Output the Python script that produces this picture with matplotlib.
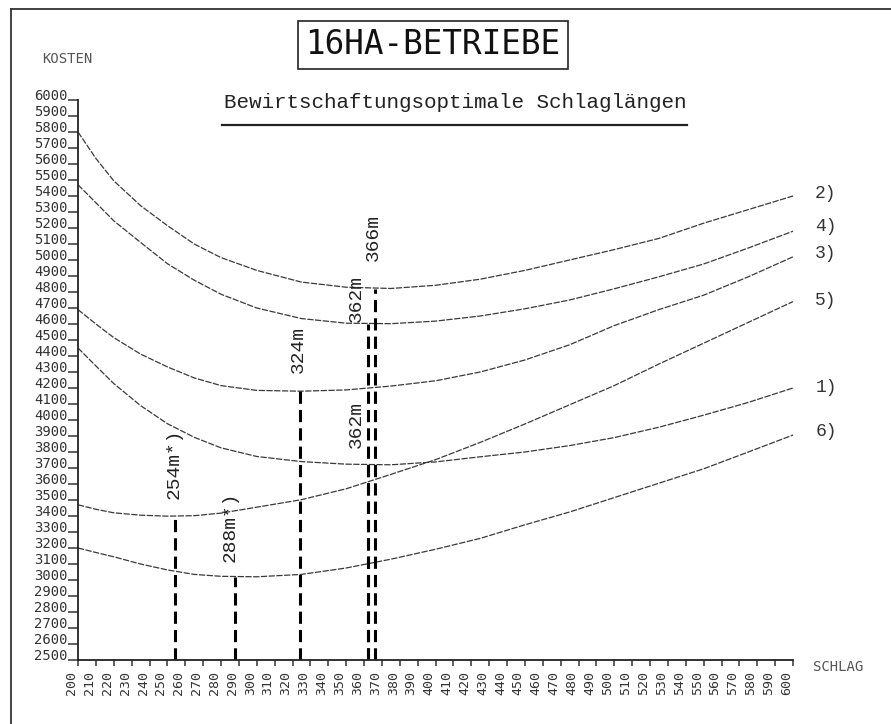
import matplotlib
matplotlib.use("Agg")
import matplotlib.pyplot as plt
from matplotlib.lines import Line2D

# ---------------- data ----------------
schlag = [200, 210, 220, 235, 250, 265, 280, 300, 325, 350, 375, 400, 425, 450,
          475, 500, 525, 550, 575, 600]

kosten_1 = [4450, 4338, 4228, 4090, 3977, 3892, 3826, 3772, 3740, 3724, 3720, 3738,
            3770, 3800, 3840, 3890, 3955, 4030, 4110, 4200]
kosten_2 = [5800, 5635, 5495, 5340, 5215, 5100, 5015, 4935, 4862, 4830, 4822, 4842,
            4880, 4935, 5000, 5065, 5135, 5230, 5315, 5400]
kosten_3 = [4690, 4600, 4515, 4412, 4332, 4263, 4215, 4185, 4180, 4188, 4212, 4245,
            4300, 4375, 4470, 4590, 4690, 4780, 4895, 5020]
kosten_4 = [5470, 5358, 5245, 5110, 4977, 4874, 4786, 4700, 4634, 4605, 4602, 4618,
            4650, 4695, 4750, 4820, 4895, 4975, 5075, 5180]
kosten_5 = [3470, 3442, 3420, 3405, 3399, 3402, 3418, 3455, 3502, 3570, 3660, 3752,
            3860, 3975, 4095, 4215, 4350, 4480, 4610, 4740]
kosten_6 = [3200, 3172, 3145, 3100, 3063, 3035, 3023, 3020, 3035, 3075, 3130, 3192,
            3260, 3345, 3425, 3515, 3605, 3695, 3800, 3906]

curve_names = ["1)", "2)", "3)", "4)", "5)", "6)"]
curves = [kosten_1, kosten_2, kosten_3, kosten_4, kosten_5, kosten_6]

# optimal lengths (vertical markers)
opt_labels = ["254m*)", "288m*)", "324m", "362m", "366m", "362m"]
opt_x = [254, 288, 324, 362, 366, 362]
opt_y = [3400, 3020, 4180, 4600, 4820, 3720]

y_ticks = list(range(2500, 6001, 100))
x_ticks = list(range(200, 601, 10))

# ---------------- figure ----------------
W, H, DPI = 891, 724, 100
fig = plt.figure(figsize=(W / DPI, H / DPI), dpi=DPI)
fig.patch.set_facecolor("white")

L, R, B, T = 78, 793, 660, 100
ax = fig.add_axes([L / W, 1 - B / H, (R - L) / W, (B - T) / H])
ax.set_xlim(200, 600)
ax.set_ylim(2500, 6000)
ax.patch.set_alpha(0)

for s in ("top", "right"):
    ax.spines[s].set_visible(False)
for s in ("left", "bottom"):
    ax.spines[s].set_linewidth(1.3)
    ax.spines[s].set_color("#222222")

plot_font = "DejaVu Sans Mono"
type_font = "Liberation Mono"

ax.set_yticks(y_ticks)
ax.set_yticklabels([str(v) for v in y_ticks], family=plot_font, fontsize=10,
                   color="#333333")
ax.tick_params(axis="y", direction="out", length=7.5, width=1.1, pad=0,
               colors="#333333")
for lab in ax.get_yticklabels():
    lab.set_verticalalignment("baseline")

ax.set_xticks(x_ticks)
ax.set_xticklabels([str(v) for v in x_ticks], family=plot_font, fontsize=9.5,
                   rotation=90, color="#444444")
ax.tick_params(axis="x", direction="out", length=4, width=1.1, pad=4,
               colors="#333333")
for lab in ax.get_xticklabels():
    lab.set_horizontalalignment("right")
    lab.set_verticalalignment("top")

# curves
label_dy = {"1)": 0, "2)": 3, "3)": 3, "4)": 5, "5)": 1, "6)": 4}
for name, vals in zip(curve_names, curves):
    ax.plot(schlag, vals, color="#3a3a3a", lw=0.9, ls=(0, (5, 1.2)),
            solid_capstyle="butt", clip_on=False)
    ax.annotate(name, xy=(schlag[-1], vals[-1]), xytext=(16, label_dy[name] * 0.72),
                textcoords="offset points", ha="left", va="center",
                family=type_font, fontsize=13, color="#333333",
                annotation_clip=False)

# vertical optimum markers (drawn bottom-up so dash phases line up)
label_dx = [0, -4, -1, -8, -1, -8]
label_gap = [12, 11, 13, 1.5, 20, 12]
for lab, x, y, dx, gap in zip(opt_labels, opt_x, opt_y, label_dx, label_gap):
    ax.plot([x, x], [2500, y], color="black", lw=2.2, ls=(0, (4, 2)),
            solid_capstyle="butt")
    ax.annotate(lab, xy=(x, y), xytext=(dx, gap), textcoords="offset points",
                rotation=90, ha="center", va="bottom", family=type_font,
                fontsize=14, color="#222222")

# axis captions
fig.text(42 / W, 1 - 59 / H, "KOSTEN", family=plot_font, fontsize=10,
         color="#555555", ha="left", va="center")
fig.text(813 / W, 1 - 667 / H, "SCHLAG", family=plot_font, fontsize=10,
         color="#555555", ha="left", va="center")

# title box
fig.text(433 / W, 1 - 45 / H, "16HA-BETRIEBE", family=plot_font, fontsize=23.5,
         ha="center", va="center", color="#111111",
         bbox=dict(boxstyle="square,pad=0.22", fc="white", ec="#222222", lw=1.2))

# subtitle with underline
fig.text(455 / W, 1 - 103 / H, "Bewirtschaftungsoptimale Schlaglängen",
         family=type_font, fontsize=15, ha="center", va="center", color="#222222")
fig.add_artist(Line2D([222 / W, 687 / W], [1 - 125 / H, 1 - 125 / H],
                      transform=fig.transFigure, color="#222222", lw=1.6))

# page frame (top and left edges)
fig.add_artist(Line2D([11 / W, 1.0], [1 - 9 / H, 1 - 9 / H],
                      transform=fig.transFigure, color="#333333", lw=1.3))
fig.add_artist(Line2D([11 / W, 11 / W], [0, 1 - 9 / H],
                      transform=fig.transFigure, color="#333333", lw=1.3))

fig.savefig("out.png", dpi=DPI, facecolor="white")
